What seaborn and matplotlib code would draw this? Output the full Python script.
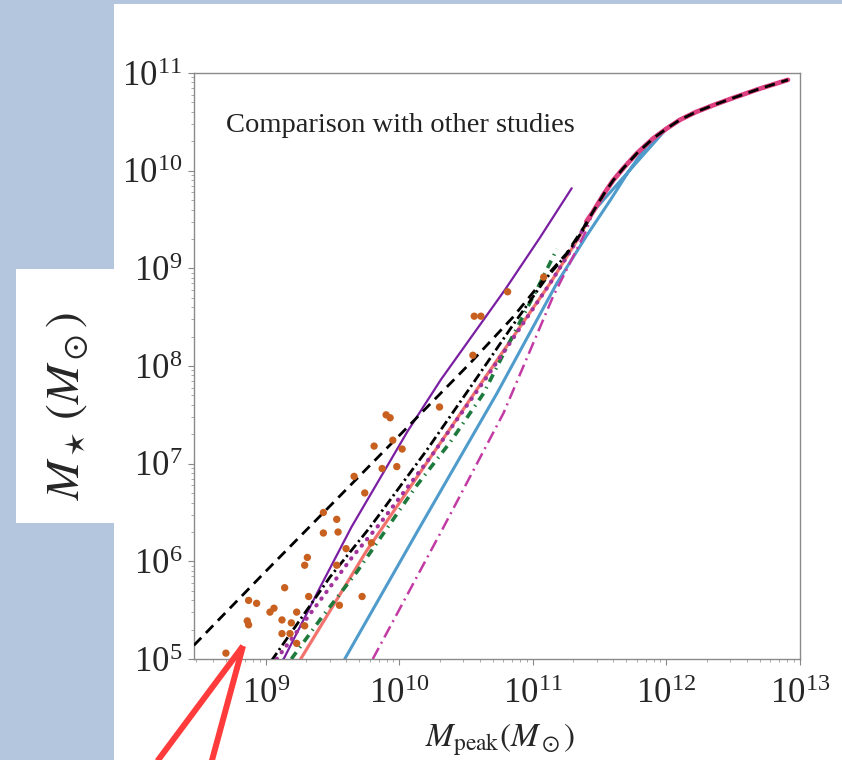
import numpy as np
import matplotlib
matplotlib.use("Agg")
import matplotlib.pyplot as plt
from matplotlib.patches import Rectangle
from matplotlib.lines import Line2D
from matplotlib.ticker import LogLocator, LogFormatterSciNotation, NullFormatter
import seaborn as sns

# ---- data: log10 halo peak mass vs log10 stellar mass ----
# shared high-mass track that the relations converge onto
track_logM = [11.45, 11.53, 11.60, 11.68, 11.78, 11.90, 12.00, 12.10, 12.22,
              12.35, 12.50, 12.70, 12.91]
track_logMs = [9.58, 9.76, 9.90, 10.03, 10.18, 10.33, 10.43, 10.52, 10.60,
               10.67, 10.745, 10.84, 10.93]

purple_logM = [9.10, 9.14, 9.40, 9.64, 10.06, 10.31, 10.55, 10.79, 11.05, 11.29]
purple_logMs = [4.93, 5.02, 5.72, 6.35, 7.33, 7.86, 8.32, 8.78, 9.31, 9.82]

dashed_logM = [8.46, 9.00, 10.00, 10.53, 10.85, 11.10, 11.25, 11.38]
dashed_logMs = [5.14, 5.90, 7.29, 8.03, 8.50, 8.92, 9.15, 9.42]

dashdot_logM = [9.04, 9.48, 9.78, 10.20, 10.55, 10.85, 11.10, 11.25, 11.38]
dashdot_logMs = [4.98, 5.84, 6.35, 7.13, 7.82, 8.42, 8.90, 9.14, 9.40]

dotted_logM = [9.08, 9.65, 9.85, 10.25, 10.62, 10.80, 11.13, 11.30]
dotted_logMs = [5.00, 6.05, 6.38, 7.10, 7.82, 8.18, 8.85, 9.22]

green_logM = [9.19, 9.42, 9.68, 10.12, 10.38, 10.63, 10.80, 11.05, 11.18]
green_logMs = [5.00, 5.43, 5.89, 6.76, 7.22, 7.72, 8.18, 8.84, 9.20]

salmon_logM = [9.26, 9.75, 10.20, 10.63, 11.13, 11.35]
salmon_logMs = [5.00, 6.10, 7.00, 7.86, 8.85, 9.33]

blue_logM = [9.59, 10.14, 10.73, 11.18, 11.40, 11.58, 11.72, 11.85, 12.00]
blue_logMs = [5.00, 6.32, 7.72, 8.85, 9.33, 9.70, 10.00, 10.25, 10.43]

magenta_logM = [9.80, 10.33, 10.78, 11.15, 11.40]
magenta_logMs = [5.00, 6.35, 7.52, 8.71, 9.39]

dwarf_logM = [10.55, 10.30, 9.90, 9.93, 9.81, 9.95, 10.02, 9.98, 9.87, 9.66,
              9.74, 9.43, 9.53, 9.43, 9.54, 9.60, 9.79, 9.31, 9.29, 9.14,
              9.32, 9.72, 9.55, 9.03, 9.06, 8.87, 8.93, 9.23, 8.86, 8.87,
              9.12, 9.19, 9.29, 9.12, 9.18, 9.23, 8.70, 10.56, 10.61, 10.81,
              11.08, 9.53]
dwarf_logMs = [8.11, 7.58, 7.50, 7.47, 7.18, 7.24, 7.15, 6.97, 6.95, 6.87,
               6.70, 6.50, 6.43, 6.29, 6.30, 6.13, 6.19, 6.04, 5.96, 5.73,
               5.64, 5.64, 5.55, 5.48, 5.52, 5.60, 5.57, 5.48, 5.39, 5.35,
               5.40, 5.37, 5.34, 5.26, 5.26, 5.16, 5.06, 8.51, 8.51, 8.76,
               8.91, 5.96]

x_ticks_exp = [9, 10, 11, 12, 13]
y_ticks_exp = [5, 6, 7, 8, 9, 10, 11]

# ---- style ----
sns.set_style("white")
plt.rcParams["font.family"] = ["Liberation Serif", "DejaVu Serif"]
plt.rcParams["mathtext.fontset"] = "stix"

W, H = 842, 760
fig = plt.figure(figsize=(W / 100, H / 100), dpi=100)
fig.patch.set_facecolor("#b3c6dd")

# white slide panels
fig.add_artist(Rectangle((114 / W, 0), 1 - 114 / W, 1 - 4 / H,
                         transform=fig.transFigure, facecolor="white",
                         edgecolor="none", zorder=0))
fig.add_artist(Rectangle((16 / W, 1 - 523 / H), 98 / W, 254 / H,
                         transform=fig.transFigure, facecolor="white",
                         edgecolor="none", zorder=0))

ax = fig.add_axes([194 / W, 1 - 659 / H, 606 / W, 586 / H])
ax.set_xscale("log")
ax.set_yscale("log")


def series(lm, lms, tail=True):
    x = list(lm) + (track_logM if tail else [])
    y = list(lms) + (track_logMs if tail else [])
    return np.power(10.0, x), np.power(10.0, y)


def draw(lm, lms, color, lw, ls, z, tail=True, cap="butt"):
    x, y = series(lm, lms, tail)
    sns.lineplot(x=x, y=y, ax=ax, sort=False, estimator=None, color=color,
                 linewidth=lw, linestyle=ls, zorder=z,
                 dash_capstyle=cap, solid_capstyle="round",
                 solid_joinstyle="round")


draw(blue_logM, blue_logMs, "#4f9ccc", 2.2, "-", 2)
draw(salmon_logM, salmon_logMs, "#f2736e", 2.3, "-", 3)
draw(magenta_logM, magenta_logMs, "#c23aa3", 1.8, (0, (5, 2, 0.8, 2)), 4)
draw(green_logM, green_logMs, "#1d7a3c", 2.6, (0, (2.3, 1.6, 0.4, 1.6)), 5, tail=False)
draw(purple_logM, purple_logMs, "#7b1fa2", 1.6, "-", 6, tail=False)
draw(dashdot_logM, dashdot_logMs, "black", 2.0, (0, (3.5, 1.3, 0.8, 1.3)), 7.8)
draw(dotted_logM, dotted_logMs, "#a2339c", 3.0, (0, (0.1, 1.9)), 7.5, cap="round")
draw(dashed_logM, dashed_logMs, "black", 2.0, (0, (3.8, 2.4)), 9)

# hot-pink band along the converged high-mass track
tx, ty = series([11.40], [9.48])
sns.lineplot(x=tx, y=ty, ax=ax, sort=False, estimator=None, color="#dd3f80",
             linewidth=3.4, linestyle="-", zorder=8.2,
             solid_capstyle="round", solid_joinstyle="round")

sns.scatterplot(x=np.power(10.0, dwarf_logM), y=np.power(10.0, dwarf_logMs),
                ax=ax, s=28, color="#c8611f", edgecolor="none", zorder=10)

ax.set_xlim(10 ** 8.461, 10 ** 13.0)
ax.set_ylim(1e5, 1e11)

ax.xaxis.set_minor_locator(LogLocator(base=10, subs=np.arange(2, 10), numticks=20))
ax.yaxis.set_minor_locator(LogLocator(base=10, subs=np.arange(2, 10), numticks=20))
ax.set_xticks([10.0 ** e for e in x_ticks_exp])
ax.set_yticks([10.0 ** e for e in y_ticks_exp])
ax.xaxis.set_major_formatter(LogFormatterSciNotation())
ax.yaxis.set_major_formatter(LogFormatterSciNotation())
ax.xaxis.set_minor_formatter(NullFormatter())
ax.yaxis.set_minor_formatter(NullFormatter())

ax.tick_params(axis="both", which="major", direction="out", length=4,
               width=0.8, color="#888888", labelsize=25,
               bottom=True, left=True, top=False, right=False)
ax.tick_params(axis="x", which="major", pad=10)
ax.tick_params(axis="y", which="major", pad=4.5)
ax.tick_params(axis="both", which="minor", direction="out", length=2.5,
               width=0.6, color="#999999", bottom=True, left=True,
               top=False, right=False)
for sp in ax.spines.values():
    sp.set_color("#8a8a8a")
    sp.set_linewidth(1.0)
ax.set_xlabel("")
ax.set_ylabel("")

ax.text(0.053, 0.911, "Comparison with other studies", transform=ax.transAxes,
        fontsize=20.5, va="center", ha="left", color="#222222")

fig.text(500 / W, 1 - 740 / H, r"$M_{\rm peak}(M_\odot)$", fontsize=24,
         ha="center", va="center")
fig.text(68 / W, 1 - 406 / H, r"$M_\star\,(M_\odot)$", fontsize=34,
         ha="center", va="center", rotation=90)

# red pointer lines
for xe in (147, 208):
    fig.add_artist(Line2D([243 / W, xe / W], [1 - 646 / H, 1 - 775 / H],
                          transform=fig.transFigure, color="#ff3b3b",
                          linewidth=4.3, solid_capstyle="butt", zorder=20))

fig.savefig("out.png", dpi=100, facecolor=fig.get_facecolor())
